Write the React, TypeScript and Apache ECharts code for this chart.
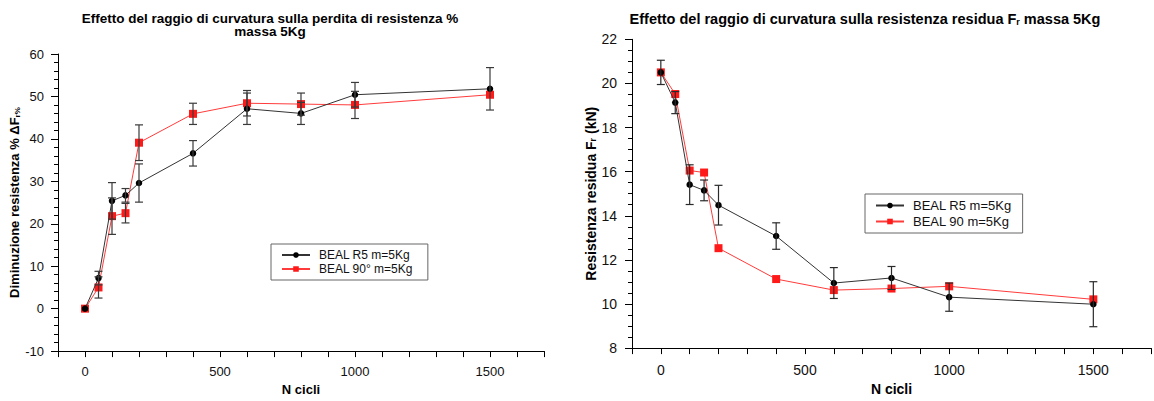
import React, { useEffect, useRef } from "react";
import * as echarts from "echarts";

const cycles = [0, 50, 100, 150, 200, 400, 600, 800, 1000, 1500];

const lossR5 = [0, 7.2, 25.4, 26.7, 29.6, 36.6, 47.1, 46.0, 50.4, 51.8];
const lossR5Err = [0, 1.6, 4.3, 1.6, 4.5, 3.0, 3.7, 2.6, 2.9, 5.0];
const loss90 = [0, 5.0, 21.8, 22.5, 39.1, 45.9, 48.4, 48.2, 48.0, 50.4];
const loss90Err = [0, 2.5, 4.3, 2.3, 4.2, 2.5, 3.0, 2.6, 3.2, 0];

const residR5 = [20.5, 19.13, 15.41, 15.15, 14.48, 13.08, 10.95, 11.18, 10.31, 9.99];
const residR5Err = [0.55, 0.5, 0.9, 0.47, 0.9, 0.6, 0.7, 0.52, 0.64, 1.02];
const resid90 = [20.5, 19.52, 16.05, 15.96, 12.53, 11.13, 10.63, 10.7, 10.8, 10.21];
const resid90Err = [0, 0, 0, 0, 0, 0, 0, 0, 0, 0];

const nameR5 = "BEAL R5 m=5Kg";
const name90L = "BEAL 90° m=5Kg";
const name90R = "BEAL 90 m=5Kg";

const FONT = "'Liberation Sans', Arial, Helvetica, sans-serif";

function errorSeries(idx: number, vals: number[], errs: number[], color: string) {
  return {
    type: "custom",
    xAxisIndex: idx,
    yAxisIndex: idx,
    silent: true,
    z: 5,
    data: cycles.map((c, i) => [c, vals[i] - errs[i], vals[i] + errs[i], errs[i]]),
    encode: { x: 0, y: [1, 2] },
    renderItem: (_p: any, api: any) => {
      if (!api.value(3)) return { type: "group", children: [] };
      const lo = api.coord([api.value(0), api.value(1)]);
      const hi = api.coord([api.value(0), api.value(2)]);
      const w = 4;
      const style = { stroke: color, lineWidth: 1.2, fill: null };
      return {
        type: "group",
        children: [
          { type: "line", shape: { x1: lo[0], y1: lo[1], x2: hi[0], y2: hi[1] }, style },
          { type: "line", shape: { x1: lo[0] - w, y1: lo[1], x2: lo[0] + w, y2: lo[1] }, style },
          { type: "line", shape: { x1: hi[0] - w, y1: hi[1], x2: hi[0] + w, y2: hi[1] }, style },
        ],
      };
    },
  };
}

function lineSeries(name: string, idx: number, vals: number[], kind: "black" | "red") {
  const black = kind === "black";
  return {
    type: "line",
    name,
    xAxisIndex: idx,
    yAxisIndex: idx,
    data: cycles.map((c, i) => [c, vals[i]]),
    symbol: black ? "circle" : "rect",
    symbolSize: black ? 6.5 : 8,
    showAllSymbol: true,
    lineStyle: { color: black ? "#333333" : "#ff3b3b", width: 1 },
    itemStyle: { color: black ? "#000000" : "#ff1a1a" },
    z: black ? 3 : 2,
  };
}

function xAxis(idx: number, fs: number, nameGap: number, margin: number) {
  return {
    type: "value",
    gridIndex: idx,
    min: -100,
    max: 1700,
    interval: 100,
    name: "N cicli",
    nameLocation: "middle",
    nameGap,
    nameTextStyle: { fontFamily: FONT, fontWeight: "bold", fontSize: fs, color: "#000" },
    axisLine: { show: true, onZero: false, lineStyle: { color: "#000", width: 1 } },
    axisTick: { show: true, length: 6, lineStyle: { color: "#000" } },
    axisLabel: {
      margin,
      fontFamily: FONT,
      fontSize: fs,
      color: "#111",
      formatter: (v: number) => (v % 500 === 0 ? String(v) : ""),
    },
    splitLine: { show: false },
  };
}

export default function App() {
  const ref = useRef<HTMLDivElement>(null);
  useEffect(() => {
    const chart = echarts.init(ref.current!, null, { renderer: "svg" });
    const option: any = {
      animation: false,
      backgroundColor: "#ffffff",
      title: [
        {
          text: "Effetto del raggio di curvatura sulla perdita di resistenza %\nmassa 5Kg",
          left: 270,
          top: 12,
          textAlign: "center",
          padding: 0,
          textStyle: { fontFamily: FONT, fontSize: 13.5, fontWeight: "bold", lineHeight: 13, color: "#000" },
        },
        {
          text: "Effetto del raggio di curvatura sulla resistenza residua F{sub|r} massa 5Kg",
          left: 865,
          top: 11,
          textAlign: "center",
          padding: 0,
          textStyle: {
            fontFamily: FONT,
            fontSize: 14.5,
            fontWeight: "bold",
            color: "#000",
            rich: { sub: { fontFamily: FONT, fontSize: 9, fontWeight: "bold", verticalAlign: "bottom", color: "#000" } },
          },
        },
      ],
      legend: [
        {
          data: [nameR5, name90L],
          orient: "vertical",
          left: 271,
          top: 244,
          padding: [5, 15, 5, 10],
          itemGap: 2,
          itemWidth: 28,
          itemHeight: 7,
          borderColor: "#666",
          borderWidth: 1,
          selectedMode: false,
          textStyle: { fontFamily: FONT, fontSize: 12, lineHeight: 12, color: "#111", padding: [0, 0, 0, 4] },
        },
        {
          data: [nameR5, name90R],
          orient: "vertical",
          left: 865,
          top: 194,
          padding: [5, 11, 5, 10],
          itemGap: 3,
          itemWidth: 28,
          itemHeight: 7,
          borderColor: "#666",
          borderWidth: 1,
          selectedMode: false,
          textStyle: { fontFamily: FONT, fontSize: 13, lineHeight: 13, color: "#111", padding: [0, 0, 0, 4] },
        },
      ],
      grid: [
        { left: 58, top: 54, width: 486, height: 308, containLabel: false },
        { left: 632, top: 39.3, width: 520, height: 321.7, containLabel: false },
      ],
      xAxis: [xAxis(0, 13, 26, 14), xAxis(1, 14, 28, 15)],
      yAxis: [
        {
          type: "value",
          gridIndex: 0,
          min: -10,
          max: 60,
          interval: 10,
          name: "Diminuzione resistenza % ΔF{sub|r%}",
          nameLocation: "middle",
          nameGap: 36,
          nameTextStyle: {
            fontFamily: FONT,
            fontWeight: "bold",
            fontSize: 13,
            color: "#000",
            rich: { sub: { fontFamily: FONT, fontWeight: "bold", fontSize: 8, verticalAlign: "bottom", color: "#000" } },
          },
          axisLine: { show: true, onZero: false, lineStyle: { color: "#000", width: 1 } },
          axisTick: { show: true, length: 7, lineStyle: { color: "#000" } },
          minorTick: { show: true, splitNumber: 5, length: 4, lineStyle: { color: "#000" } },
          axisLabel: { margin: 14, fontFamily: FONT, fontSize: 13, color: "#111" },
          splitLine: { show: false },
        },
        {
          type: "value",
          gridIndex: 1,
          min: 8,
          max: 22,
          interval: 2,
          name: "Resistenza residua F{sub|r} (kN)",
          nameLocation: "middle",
          nameGap: 31,
          nameTextStyle: {
            fontFamily: FONT,
            fontWeight: "bold",
            fontSize: 14,
            color: "#000",
            rich: { sub: { fontFamily: FONT, fontWeight: "bold", fontSize: 9, verticalAlign: "bottom", color: "#000" } },
          },
          axisLine: { show: true, onZero: false, lineStyle: { color: "#000", width: 1 } },
          axisTick: { show: true, length: 7, lineStyle: { color: "#000" } },
          minorTick: { show: true, splitNumber: 4, length: 4, lineStyle: { color: "#000" } },
          axisLabel: { margin: 15, fontFamily: FONT, fontSize: 14, color: "#111" },
          splitLine: { show: false },
        },
      ],
      series: [
        lineSeries(name90L, 0, loss90, "red"),
        lineSeries(nameR5, 0, lossR5, "black"),
        errorSeries(0, loss90, loss90Err, "#3a3a3a"),
        errorSeries(0, lossR5, lossR5Err, "#3a3a3a"),
        lineSeries(name90R, 1, resid90, "red"),
        lineSeries(nameR5, 1, residR5, "black"),
        errorSeries(1, resid90, resid90Err, "#3a3a3a"),
        errorSeries(1, residR5, residR5Err, "#2a2a2a"),
      ],
    };
    chart.setOption(option);
    return () => chart.dispose();
  }, []);
  return (
    <div
      ref={ref}
      style={{ position: "absolute", left: 0, top: 0, width: 1154, height: 401, background: "#fff" }}
    />
  );
}
